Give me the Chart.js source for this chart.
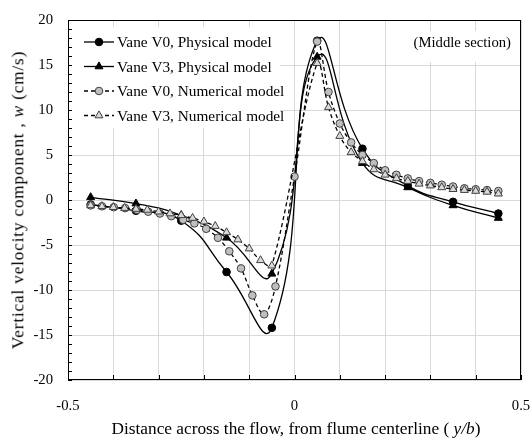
<!DOCTYPE html>
<html><head><meta charset="utf-8">
<script src="https://cdn.jsdelivr.net/npm/chart.js@4.4.0/dist/chart.umd.min.js"></script>
<style>
html,body{margin:0;padding:0;background:#fff;}
#wrap{position:relative;width:532px;height:439px;overflow:hidden;}
canvas{position:absolute;left:0;top:0;}
.t{position:absolute;font-family:"Liberation Serif","Times New Roman",serif;font-size:17.3px;color:#000;white-space:nowrap;line-height:1;}
#xt{left:0;width:592px;text-align:center;top:420px;}
#yt{left:18px;top:200px;font-size:17.3px;letter-spacing:0.8px;transform:translate(-50%,-50%) rotate(-90deg);}
</style></head>
<body><div id="wrap"><canvas id="c" width="532" height="439"></canvas>
<div class="t" id="xt">Distance across the flow, from flume centerline ( <i>y/b</i>)</div>
<div class="t" id="yt">Vertical velocity component , <i>w</i> (cm/s)</div>
</div>
<script>
// ---- data ----
const seriesNames = ['Vane V0, Physical model','Vane V3, Physical model','Vane V0, Numerical model','Vane V3, Numerical model'];
const xPhys = [-0.45,-0.35,-0.25,-0.15,-0.05,0.05,0.15,0.25,0.35,0.45];
const v0Phys = [-0.5,-1.2,-2.3,-8.0,-14.2,17.7,5.7,1.6,-0.2,-1.5];
const v3Phys = [0.3,-0.4,-1.7,-4.2,-8.2,15.9,4.1,1.4,-0.6,-2.0];
const xV0Num = [-0.45,-0.425,-0.399,-0.374,-0.348,-0.323,-0.297,-0.272,-0.246,-0.221,-0.195,-0.169,-0.144,-0.118,-0.093,-0.067,-0.042,0,
  0.05,0.075,0.1,0.125,0.15,0.175,0.2,0.225,0.25,0.275,0.3,0.325,0.35,0.375,0.4,0.425,0.45];
const v0Num = [-0.6,-0.7,-0.8,-0.9,-1.1,-1.3,-1.5,-1.8,-2.2,-2.6,-3.2,-4.2,-5.7,-7.6,-10.6,-12.7,-9.6,2.6,
  17.6,12.0,8.5,6.4,5.0,4.1,3.3,2.8,2.4,2.1,1.9,1.7,1.5,1.3,1.2,1.1,1.0];
const xV3Num = [-0.45,-0.425,-0.4,-0.375,-0.35,-0.325,-0.3,-0.275,-0.25,-0.225,-0.2,-0.175,-0.15,-0.125,-0.1,-0.075,-0.05,
  0.05,0.075,0.1,0.125,0.15,0.175,0.2,0.225,0.25,0.275,0.3,0.325,0.35,0.375,0.4,0.425,0.45];
const v3Num = [-0.6,-0.7,-0.8,-0.9,-1.0,-1.1,-1.3,-1.5,-1.7,-2.0,-2.4,-2.9,-3.6,-4.4,-5.4,-6.7,-7.3,
  15.2,10.3,7.1,5.3,4.3,3.4,2.8,2.4,2.1,1.8,1.6,1.4,1.2,1.1,1.0,0.9,0.7];
const xTickLabels = {'-0.5':'-0.5','0':'0','0.5':'0.5'};
const sectionLabel = '(Middle section)';

const pts = (xs, ys) => xs.map((x, i) => ({x, y: ys[i]}));
const FONT = 'Liberation Serif';

const styles = [
  {pointStyle:'circle', radius:3.8, bg:'#000', bc:'#000', dash:[]},
  {pointStyle:'triangle', radius:4.6, bg:'#000', bc:'#000', dash:[]},
  {pointStyle:'circle', radius:3.8, bg:'#bfbfbf', bc:'#404040', dash:[4,3]},
  {pointStyle:'triangle', radius:4.6, bg:'#d9d9d9', bc:'#404040', dash:[4,3]}
];
const dataSets = [pts(xPhys, v0Phys), pts(xPhys, v3Phys), pts(xV0Num, v0Num), pts(xV3Num, v3Num)];

const datasets = dataSets.map((d, i) => ({
  label: seriesNames[i],
  data: d,
  borderColor: '#000',
  borderWidth: 1.3,
  borderDash: styles[i].dash,
  backgroundColor: styles[i].bg,
  pointStyle: styles[i].pointStyle,
  pointRadius: styles[i].radius,
  pointBackgroundColor: styles[i].bg,
  pointBorderColor: styles[i].bc,
  pointBorderWidth: 1,
  tension: i < 2 ? 0.5 : 0.35,
  fill: false,
  order: 4 - i
}));

const deco = {
  id: 'deco',
  beforeDatasetsDraw(chart) {
    const {ctx, chartArea: a, scales: {x, y}} = chart;
    ctx.save();
    ctx.strokeStyle = '#000';
    ctx.lineWidth = 1;
    ctx.setLineDash([]);
    ctx.beginPath();
    for (let v = y.min; v <= y.max; v += 1) {
      const py = Math.round(y.getPixelForValue(v)) + 0.5;
      ctx.moveTo(a.left, py); ctx.lineTo(a.left + 4, py);
    }
    for (let k = -5; k <= 5; k++) {
      const px = Math.round(x.getPixelForValue(k / 10)) + 0.5;
      ctx.moveTo(px, a.bottom); ctx.lineTo(px, a.bottom - 5);
    }
    ctx.stroke();
    ctx.strokeRect(a.left + 0.5, a.top + 0.5, a.right - a.left - 1, a.bottom - a.top - 1);
    ctx.restore();
  },
  afterDatasetsDraw(chart) {
    const {ctx, chartArea: a} = chart;
    ctx.save();
    ctx.fillStyle = '#fff';
    ctx.fillRect(a.left + 4, 27, 208, 101);
    ctx.fillRect(405, 31, 111, 31);
    const rows = [42, 66.5, 91, 115.5];
    ctx.font = '15.3px "' + FONT + '"';
    ctx.textBaseline = 'middle';
    seriesNames.forEach((name, i) => {
      const yy = rows[i];
      const s = styles[i];
      ctx.strokeStyle = '#000';
      ctx.lineWidth = 1.3;
      ctx.setLineDash(s.dash);
      ctx.beginPath(); ctx.moveTo(84, yy); ctx.lineTo(114, yy); ctx.stroke();
      ctx.setLineDash([]);
      ctx.fillStyle = s.bg; ctx.strokeStyle = s.bc; ctx.lineWidth = 1;
      Chart.helpers.drawPoint(ctx, {pointStyle: s.pointStyle, radius: s.radius, borderWidth: 1, rotation: 0}, 99, yy);
      ctx.fillStyle = '#000';
      ctx.textAlign = 'left';
      ctx.fillText(name, 117, yy + 1);
    });
    ctx.font = '14.7px "' + FONT + '"';
    ctx.textAlign = 'right';
    ctx.fillText(sectionLabel, 511, 43);
    ctx.restore();
  }
};

Chart.defaults.font.family = FONT;
Chart.defaults.font.size = 14.7;
Chart.defaults.color = '#000';

new Chart(document.getElementById('c'), {
  type: 'line',
  data: {datasets},
  options: {
    responsive: false,
    animation: false,
    devicePixelRatio: 1,
    layout: {padding: {left: 0, right: 11, top: 20, bottom: 0}},
    plugins: {legend: {display: false}, tooltip: {enabled: false}},
    scales: {
      x: {
        type: 'linear', min: -0.5, max: 0.5,
        ticks: {stepSize: 0.1, autoSkip: false, maxRotation: 0, padding: 17,
          callback: (v) => { const k = Math.round(v * 10) / 10; return xTickLabels[String(k)] ?? ''; }},
        grid: {color: '#d9d9d9', lineWidth: 1, drawTicks: false},
        border: {display: false},
        afterFit: (s) => { s.height = 59; s.paddingLeft = 0; s.paddingRight = 0; }
      },
      y: {
        type: 'linear', min: -20, max: 20,
        ticks: {stepSize: 5, padding: 15},
        grid: {color: '#d9d9d9', lineWidth: 1, drawTicks: false},
        border: {display: false},
        afterFit: (s) => { s.width = 68; s.paddingTop = 0; s.paddingBottom = 0; }
      }
    }
  },
  plugins: [deco]
});
</script>
</body></html>
